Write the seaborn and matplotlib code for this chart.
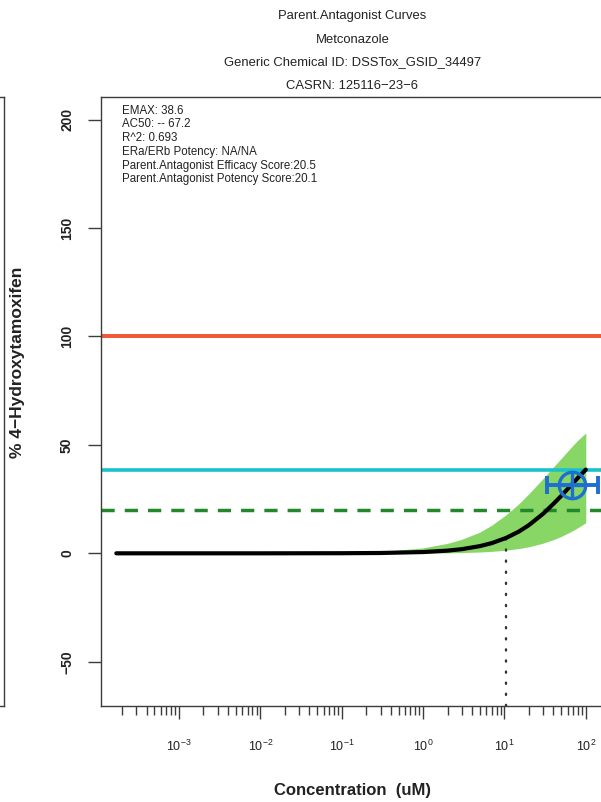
import numpy as np
import pandas as pd
import matplotlib
matplotlib.use("Agg")
import matplotlib.pyplot as plt
from matplotlib.ticker import FixedLocator, FixedFormatter, NullFormatter
import seaborn as sns

sns.set_theme(style="ticks")
plt.rcParams["font.family"] = ["Liberation Sans", "DejaVu Sans"]
plt.rcParams["mathtext.fontset"] = "custom"
plt.rcParams["mathtext.rm"] = "Liberation Sans"
plt.rcParams["mathtext.it"] = "Liberation Sans:italic"
plt.rcParams["mathtext.bf"] = "Liberation Sans:bold"

# ---- data -------------------------------------------------------------
title_lines = [
    "Parent.Antagonist Curves",
    "Metconazole",
    "Generic Chemical ID: DSSTox_GSID_34497",
    "CASRN: 125116\u221223\u22126",
]
info_lines = [
    "EMAX: 38.6",
    "AC50: -- 67.2",
    "R^2: 0.693",
    "ERa/ERb Potency: NA/NA",
    "Parent.Antagonist Efficacy Score:20.5",
    "Parent.Antagonist Potency Score:20.1",
]
emax = 38.6
ac50 = 67.2
ac50_ci = [33.0, 140.0]
reference_level = 100.0
cutoff_level = 20.0
marker_conc = 10.5

# fitted curve and its confidence band (uM, % response)
conc = [1.7e-4, 1e-3, 1e-2, 0.1, 0.3, 1, 2, 3, 5, 7, 10.5, 15, 20, 30,
        40, 50, 67.2, 80, 100]
resp = [0.0, 0.0, 0.0, 0.05, 0.15, 0.58, 1.24, 1.92, 3.32, 4.71, 7.1,
        10.0, 13.0, 18.3, 22.8, 26.5, 31.7, 34.8, 38.6]
band_lo = [0.0, 0.0, 0.0, 0.0, 0.0, 0.09, 0.2, 0.34, 0.61, 0.9, 1.45,
           2.2, 3.0, 4.7, 6.3, 7.8, 10.2, 11.8, 14.1]
band_hi = [0.0, 0.0, 0.0, 0.25, 0.8, 2.5, 4.6, 6.5, 9.8, 13.0, 17.8,
           22.8, 27.5, 34.6, 39.8, 43.8, 49.2, 52.2, 55.5]

x_major = [1e-3, 1e-2, 1e-1, 1e0, 1e1, 1e2]
x_major_labels = [r"$10^{-3}$", r"$10^{-2}$", r"$10^{-1}$", r"$10^{0}$",
                  r"$10^{1}$", r"$10^{2}$"]
y_ticks = [-50, 0, 50, 100, 150, 200]

curve = pd.DataFrame({"conc": conc, "resp": resp,
                      "lo": band_lo, "hi": band_hi})

# ---- figure -----------------------------------------------------------
W, H = 601, 802
fig = plt.figure(figsize=(W / 100, H / 100), dpi=100)


def box(x0, y0, x1, y1):
    return [x0 / W, 1 - y1 / H, (x1 - x0) / W, (y1 - y0) / H]


frame_col = "#3c3c3c"
text_col = "#222222"

# edge of the neighbouring panel
side = fig.add_axes(box(-300, 97, 4, 706))
side.set_xticks([])
side.set_yticks([])
for s in side.spines.values():
    s.set_color(frame_col)
    s.set_linewidth(1.0)

ax = fig.add_axes(box(101, 97, 604.5, 706))
ax.set_xscale("log")
ax.set_xlim(10 ** -3.958, 10 ** 2.23)
ax.set_ylim(-70.4, 210.4)

ax.fill_between(curve["conc"], curve["lo"], curve["hi"],
                color="#88d766", lw=0, zorder=1)

ax.axhline(reference_level, color="#f05a3c", lw=2.9, zorder=2)
ax.axhline(emax, color="#17c2cc", lw=2.6, zorder=2)
ax.axhline(cutoff_level, color="#23882a", lw=2.5, zorder=2,
           dashes=(3.8, 2.9))

sns.lineplot(data=curve, x="conc", y="resp", ax=ax, color="black",
             lw=3.0, estimator=None, sort=False, zorder=4,
             solid_capstyle="round")

y_marker = curve.loc[curve["conc"] == marker_conc, "resp"].iloc[0]
ax.plot([marker_conc, marker_conc], [-70.4, y_marker], color="#333333",
        lw=1.7, linestyle=(0, (0.5, 4.2)), dash_capstyle="round", zorder=3)

blue = "#1d6fd0"
y_ac50 = curve.loc[curve["conc"] == ac50, "resp"].iloc[0]
ax.errorbar([ac50], [y_ac50],
            xerr=[[ac50 - ac50_ci[0]], [ac50_ci[1] - ac50]],
            fmt="none", ecolor=blue, elinewidth=2.8, capsize=6.2,
            capthick=2.8, zorder=5)
ax.plot([ac50], [y_ac50], marker="o", ms=19, mfc="none", mec=blue,
        mew=2.4, zorder=6)
ax.plot([ac50], [y_ac50], marker="+", ms=19, mec=blue, mew=2.4, zorder=6)

ax.set_xlabel("")
ax.set_ylabel("")

# axes styling
for s in ax.spines.values():
    s.set_color(frame_col)
    s.set_linewidth(1.0)

ax.xaxis.set_major_locator(FixedLocator(x_major))
ax.xaxis.set_major_formatter(FixedFormatter(x_major_labels))
minors = [m * 10.0 ** e for e in range(-4, 3) for m in range(2, 10)]
ax.xaxis.set_minor_locator(FixedLocator(minors))
ax.xaxis.set_minor_formatter(NullFormatter())
ax.tick_params(axis="x", which="major", length=9.4, width=1.0,
               color=frame_col, pad=14, labelsize=9, labelcolor=text_col)
ax.tick_params(axis="x", which="minor", length=6.3, width=1.0,
               color=frame_col)

ax.set_yticks(y_ticks)
ax.tick_params(axis="y", which="major", length=9.4, width=1.0,
               color=frame_col, pad=10, labelsize=10, labelcolor=text_col)
for lab in ax.get_yticklabels():
    lab.set_rotation(90)
    lab.set_va("center")
    lab.set_ha("right")
    lab.set_fontweight("bold")

# titles
title_y = [16.5, 40, 62.5, 86]
for txt, yy in zip(title_lines, title_y):
    fig.text(352.5 / W, 1 - yy / H, txt, ha="center", va="center",
             fontsize=9.4, color=text_col)

# parameter summary inside the plot
for i, txt in enumerate(info_lines):
    yy = 110.7 + i * 13.75
    fig.text(122 / W, 1 - yy / H, txt, ha="left", va="center",
             fontsize=8.3, color=text_col)

fig.text(352.5 / W, 1 - 790 / H, "Concentration  (uM)", ha="center",
         va="center", fontsize=12, fontweight="bold", color=text_col)
fig.text(18 / W, 1 - 362 / H, "% 4\u2212Hydroxytamoxifen", ha="center",
         va="center", rotation=90, fontsize=12.5, fontweight="bold",
         color=text_col)

fig.savefig("out.png", dpi=100)
